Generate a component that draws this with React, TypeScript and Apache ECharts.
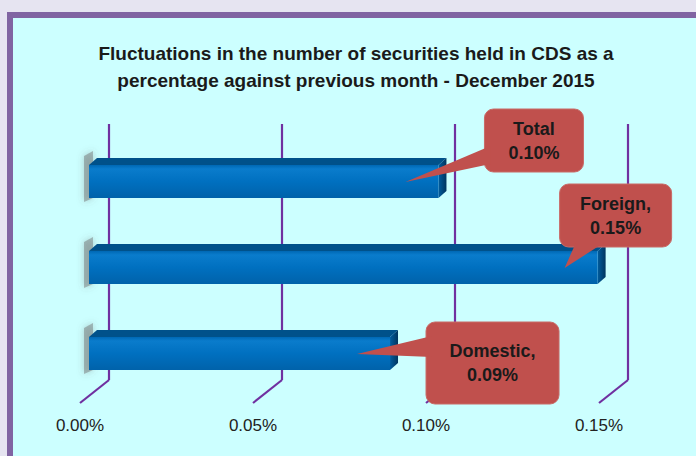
import React, { useEffect, useRef } from "react";
import * as echarts from "echarts";

// ---- data ----
const CATEGORIES = ["Total", "Foreign", "Domestic"];
const VALUES = [0.101, 0.147, 0.087]; // % change vs previous month
const CALLOUT_NAMES = ["Total", "Foreign,", "Domestic,"];
const TICKS = [0, 0.05, 0.1, 0.15];
const AXIS_MIN = 0;
const AXIS_MAX = 0.15;
const AXIS_INTERVAL = 0.05;
const TITLE = "Fluctuations in the number of securities held in CDS as a\npercentage against previous month - December 2015";

// ---- layout (callout boxes relative to pointer tip) ----
const CALLOUT_LAYOUT = [
  { rx: 79, ry: -73, w: 99, h: 63, wedge: [[85, -36], [85, -18]] },
  { rx: -5, ry: -84, w: 112, h: 63, wedge: [[12, -27], [42, -27]] },
  { rx: 69, ry: -32, w: 133, h: 82, wedge: [[75, -18], [75, 3]] },
];

const TITLE_FONT = "'Liberation Sans', Arial, sans-serif";
const PURPLE = "#7030a0";

export default function App() {
  const ref = useRef<HTMLDivElement>(null);
  useEffect(() => {
    document.body.style.margin = "0";
    const chart = echarts.init(ref.current!, undefined, { renderer: "svg" });
    const option: any = {
      animation: false,
      backgroundColor: "#e6e4f1",
      title: {
        text: TITLE,
        left: 356,
        top: 40,
        padding: 0,
        textAlign: "center",
        textStyle: {
          fontFamily: TITLE_FONT,
          fontSize: 19,
          fontWeight: "bold",
          color: "#1a1a1a",
          lineHeight: 27,
        },
      },
      graphic: {
        elements: [
          {
            type: "rect",
            z: -100,
            shape: { x: 10, y: 15, width: 720, height: 480 },
            style: { fill: "#ccffff", stroke: "#8064a2", lineWidth: 6 },
          },
        ],
      },
      grid: [
        { left: 89, width: 519, top: 138, height: 258 },
        { left: 109, width: 519, top: 124, height: 256 },
        { left: 80, width: 519, top: 380, height: 23 },
      ],
      xAxis: [
        { gridIndex: 0, type: "value", min: AXIS_MIN, max: AXIS_MAX, interval: AXIS_INTERVAL, show: false },
        {
          gridIndex: 1, type: "value", min: AXIS_MIN, max: AXIS_MAX, interval: AXIS_INTERVAL,
          axisLine: { show: false }, axisTick: { show: false }, axisLabel: { show: false },
          splitLine: { show: true, lineStyle: { color: PURPLE, width: 2.2 } },
        },
        {
          gridIndex: 2, type: "value", min: AXIS_MIN, max: AXIS_MAX, interval: AXIS_INTERVAL,
          axisLine: { show: false }, axisTick: { show: false }, splitLine: { show: false },
          axisLabel: {
            show: true, margin: 14, fontSize: 17, color: "#222",
            fontFamily: "'Liberation Sans', Arial, sans-serif",
            formatter: (v: number) => v.toFixed(2) + "%",
          },
        },
      ],
      yAxis: [
        { gridIndex: 0, type: "category", data: CATEGORIES, inverse: true, show: false },
        { gridIndex: 1, type: "value", min: 0, max: 1, show: false },
        { gridIndex: 2, type: "value", min: 0, max: 1, show: false },
      ],
      series: [
        {
          // floor diagonals
          type: "custom",
          xAxisIndex: 2,
          yAxisIndex: 2,
          z: 1,
          silent: true,
          data: TICKS.map((t) => [t]),
          renderItem: (_p: any, api: any) => {
            const a = api.coord([api.value(0), 0]);
            const b = api.coord([api.value(0), 1]);
            return {
              type: "line",
              shape: { x1: a[0], y1: a[1], x2: a[0] + 29, y2: b[1] },
              style: { stroke: PURPLE, lineWidth: 2.2 },
            };
          },
        },
        {
          // 3D bars
          type: "custom",
          xAxisIndex: 0,
          yAxisIndex: 0,
          z: 3,
          clip: false,
          data: VALUES.map((v, i) => [v, i]),
          encode: { x: 0, y: 1 },
          renderItem: (_p: any, api: any) => {
            const s = api.coord([0, api.value(1)]);
            const e = api.coord([api.value(0), api.value(1)]);
            const x0 = s[0];
            const x1 = e[0];
            const y0 = s[1] - 16;
            const y1 = s[1] + 17;
            const dx = 8;
            const dy = 7;
            return {
              type: "group",
              children: [
                {
                  type: "polygon",
                  shape: { points: [[x0 - 5, y0 - 9], [x0 + 4, y0 - 14], [x0 + 4, y1], [x0 - 5, y1 + 4]] },
                  style: {
                    fill: "rgba(110,110,110,0.45)",
                    shadowBlur: 7,
                    shadowColor: "rgba(90,90,90,0.7)",
                  },
                },
                {
                  type: "polygon",
                  shape: { points: [[x0, y0], [x0 + dx, y0 - dy], [x1 + dx, y0 - dy], [x1, y0]] },
                  style: { fill: "#00518a" },
                },
                {
                  type: "polygon",
                  shape: { points: [[x1, y0], [x1 + dx, y0 - dy], [x1 + dx, y1 - dy], [x1, y1]] },
                  style: {
                    fill: new echarts.graphic.LinearGradient(0, 0, 1, 0, [
                      { offset: 0, color: "#005c9e" },
                      { offset: 1, color: "#00355f" },
                    ]),
                  },
                },
                {
                  type: "rect",
                  shape: { x: x0, y: y0, width: x1 - x0, height: y1 - y0 },
                  style: {
                    fill: new echarts.graphic.LinearGradient(0, 0, 0, 1, [
                      { offset: 0, color: "#0068b4" },
                      { offset: 0.12, color: "#0a7ccc" },
                      { offset: 0.5, color: "#0070c0" },
                      { offset: 1, color: "#0062aa" },
                    ]),
                  },
                },
              ],
            };
          },
        },
        {
          // callouts
          type: "custom",
          xAxisIndex: 0,
          yAxisIndex: 0,
          z: 5,
          clip: false,
          data: VALUES.map((v, i) => [v, i]),
          encode: { x: 0, y: 1 },
          renderItem: (p: any, api: any) => {
            const i = p.dataIndex;
            const e = api.coord([api.value(0), api.value(1)]);
            const tx = e[0] - 33;
            const ty = e[1] + 1;
            const L = CALLOUT_LAYOUT[i];
            const text = CALLOUT_NAMES[i] + "\n" + Number(api.value(0)).toFixed(2) + "%";
            return {
              type: "group",
              children: [
                {
                  type: "rect",
                  shape: { x: tx + L.rx, y: ty + L.ry, width: L.w, height: L.h, r: 9 },
                  style: { fill: "#c0504d", stroke: "#c86a67", lineWidth: 1 },
                },
                {
                  type: "polygon",
                  shape: { points: [[tx, ty], [tx + L.wedge[0][0], ty + L.wedge[0][1]], [tx + L.wedge[1][0], ty + L.wedge[1][1]]] },
                  style: { fill: "#c0504d" },
                },
                {
                  type: "text",
                  style: {
                    text,
                    x: tx + L.rx + L.w / 2,
                    y: ty + L.ry + L.h / 2,
                    align: "center",
                    verticalAlign: "middle",
                    textAlign: "center",
                    textVerticalAlign: "middle",
                    fontFamily: TITLE_FONT,
                    fontSize: 18,
                    fontWeight: "bold",
                    lineHeight: 24,
                    fill: "#1a1a1a",
                  },
                },
              ],
            };
          },
        },
      ],
    };
    chart.setOption(option);
    return () => chart.dispose();
  }, []);
  return <div ref={ref} style={{ width: 696, height: 456 }} />;
}
